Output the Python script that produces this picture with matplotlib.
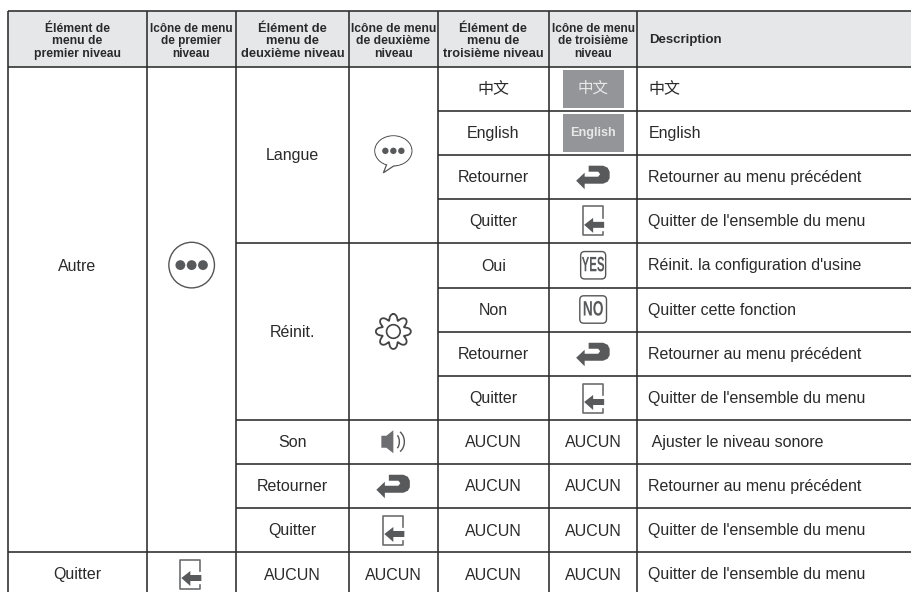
import numpy as np
import matplotlib
matplotlib.use("Agg")
import matplotlib.pyplot as plt
from matplotlib.patches import Polygon, Circle, FancyBboxPatch, Rectangle, Arc, Ellipse
from matplotlib.patheffects import AbstractPathEffect
from matplotlib.transforms import Affine2D

col_edges = [8, 146.7, 236, 349, 437.7, 549, 637.3, 911]
row_edges = [11, 66.7, 110.5, 154.7, 198.7, 243, 287.5, 331.5, 376, 420, 463.5, 508, 552, 596]

headers = ["Élément de\nmenu de\npremier niveau", "Icône de menu\nde premier\nniveau",
           "Élément de\nmenu de\ndeuxième niveau", "Icône de menu\nde deuxième\nniveau",
           "Élément de\nmenu de\ntroisième niveau", "Icône de menu\nde troisième\nniveau"]
header_sizes = [8.7, 8.5, 9.3, 8.7, 9.2, 8.6]
level1 = [("Autre", 1, 10, "dots"), ("Quitter", 12, 13, "door")]
level2 = [("Langue", 1, 5, "bubble"), ("Réinit.", 5, 9, "gear"), ("Son", 9, 10, "speaker"),
          ("Retourner", 10, 11, "ret"), ("Quitter", 11, 12, "door"), ("AUCUN", 12, 13, None)]
level3 = ["中文", "English", "Retourner", "Quitter", "Oui", "Non", "Retourner", "Quitter",
          "AUCUN", "AUCUN", "AUCUN", "AUCUN"]
icons3 = ["zh", "en", "ret", "door", "yes", "no", "ret", "door", None, None, None, None]
descriptions = ["中文", "English", "Retourner au menu précédent", "Quitter de l'ensemble du menu",
                "Réinit. la configuration d'usine", "Quitter cette fonction",
                "Retourner au menu précédent", "Quitter de l'ensemble du menu",
                " Ajuster le niveau sonore", "Retourner au menu précédent",
                "Quitter de l'ensemble du menu", "Quitter de l'ensemble du menu"]

FAM = ['Liberation Sans', 'Noto Sans CJK SC', 'DejaVu Sans']
INK = '#2a2a2a'
GREY = '#58595b'
LINE = '#2b2b2b'
HEAD = '#e6e7e8'
FS = 11.5

fig = plt.figure(figsize=(9.11, 5.92), dpi=100)
ax = fig.add_axes([0, 0, 1, 1])
ax.set_xlim(0, 911)
ax.set_ylim(592, 0)
ax.axis('off')


class SqueezeX(AbstractPathEffect):
    """Narrows a text horizontally around a centre given in display pixels."""

    def __init__(self, factor, centre_px):
        super().__init__()
        self.factor = factor
        self.centre_px = centre_px

    def draw_path(self, renderer, gc, tpath, affine, rgbFace=None):
        squeeze = Affine2D().translate(-self.centre_px, 0).scale(self.factor, 1).translate(self.centre_px, 0)
        renderer.draw_path(gc, tpath, affine + squeeze, rgbFace)


def cell_text(x, y, s, **kw):
    kw.setdefault('fontsize', FS)
    kw.setdefault('color', INK)
    kw.setdefault('ha', 'center')
    kw.setdefault('va', 'center')
    ax.text(x, y, s, family=FAM, **kw)


def icon_ret(cx, cy):
    rel = [(-17, 4), (-8.5, -4), (-8.5, 0), (5, 0), (7, -2.5), (5, -5), (-4.5, -5), (-4.5, -11),
           (10, -11), (14.5, -9), (16.5, -5), (16.5, 1.5), (14.5, 5), (10, 7), (-8.5, 7), (-8.5, 12.5)]
    ax.add_patch(Polygon([(cx + a, cy + b) for a, b in rel], fc=GREY, ec='none', zorder=3))


def icon_door(cx, cy):
    l, r, t, b = cx - 10.5, cx + 9.5, cy - 14.5, cy + 14.5
    ax.plot([r, r, l, l, r, r], [cy - 3, t, t, b, b, cy + 11], color='#6d6e71', lw=1.2, zorder=3)
    rel = [(-9, 4), (0, -3), (0, 1), (11, 1), (11, 7), (0, 7), (0, 12)]
    ax.add_patch(Polygon([(cx + a, cy + b) for a, b in rel], fc=GREY, ec='none', zorder=4))


def icon_dots(cx, cy):
    ax.add_patch(Circle((cx, cy), 22.8, fc='white', ec='#555555', lw=1.0, zorder=3))
    for dx in (-11.3, 0, 11.3):
        ax.add_patch(Circle((cx + dx, cy), 4.9, fc=GREY, ec='none', zorder=4))


def icon_bubble(cx, cy):
    cy = cy - 4
    ax.add_patch(Ellipse((cx, cy), 37, 30, fc='white', ec='#555555', lw=0.9, zorder=3))
    ax.add_patch(Polygon([(cx - 6, cy + 12), (cx - 10, cy + 22), (cx + 2, cy + 14)],
                         fc='white', ec='#555555', lw=0.9, zorder=3))
    ax.add_patch(Ellipse((cx, cy), 36, 29, fc='white', ec='none', zorder=3.5))
    for dx in (-8, 0, 8):
        ax.add_patch(Circle((cx + dx, cy), 3.2, fc=GREY, ec='none', zorder=4))


def icon_gear(cx, cy):
    a = np.linspace(0, 2 * np.pi, 720)
    r = 14.5 + 3 * np.cos(8 * a)
    w = a + 0.06 * np.sin(8 * a) - np.pi / 2
    ax.plot(cx + r * np.cos(w), cy + r * np.sin(w), color='#444444', lw=1.3, zorder=3)
    ax.add_patch(Circle((cx, cy), 6.8, fc='none', ec='#444444', lw=1.2, zorder=3))


def icon_speaker(cx, cy):
    rel = [(-12, -6), (-7, -6), (0, -11.5), (0, 11.5), (-7, 6), (-12, 6)]
    ax.add_patch(Polygon([(cx + a, cy + b) for a, b in rel], fc='#6d6e71', ec='none', zorder=3))
    ax.add_patch(Arc((cx + 1, cy), 10, 16, theta1=-65, theta2=65, color='#555555', lw=1, zorder=3))
    ax.add_patch(Arc((cx + 1, cy), 20, 24, theta1=-60, theta2=60, color='#555555', lw=1, zorder=3))


def icon_badge(cx, cy, s, w, squeeze):
    ax.add_patch(FancyBboxPatch((cx - w / 2, cy - 13.7), w, 27.4, boxstyle='round,pad=0,rounding_size=4',
                                fc='white', ec='#555555', lw=1.0, zorder=3))
    txt = ax.text(cx, cy + 0.5, s, family=FAM, fontsize=15, fontweight='bold', color=GREY,
                  ha='center', va='center', zorder=4)
    txt.set_path_effects([SqueezeX(squeeze, ax.transData.transform((cx, cy))[0])])


def icon_square(cx, cy, s, **kw):
    ax.add_patch(Rectangle((cx - 30.5, cy - 19), 61, 38, fc='#939598', ec='none', zorder=3))
    ax.text(cx, cy, s, family=FAM, color='#e8e8e8', ha='center', va='center', zorder=4, **kw)


def draw_icon(kind, cx, cy):
    if kind == 'ret':
        icon_ret(cx, cy)
    elif kind == 'door':
        icon_door(cx, cy)
    elif kind == 'dots':
        icon_dots(cx, cy)
    elif kind == 'bubble':
        icon_bubble(cx, cy)
    elif kind == 'gear':
        icon_gear(cx, cy)
    elif kind == 'speaker':
        icon_speaker(cx, cy)
    elif kind == 'yes':
        icon_badge(cx, cy, 'YES', 25, 0.55)
    elif kind == 'no':
        icon_badge(cx, cy, 'NO', 26.7, 0.66)
    elif kind == 'zh':
        icon_square(cx, cy, '中文', fontsize=11.2)
    elif kind == 'en':
        icon_square(cx, cy, 'English', fontsize=9.1, fontweight='bold')
    elif kind is not None:
        raise ValueError(kind)


def centre(edges, a, b):
    return (edges[a] + edges[b]) / 2


# header band
ax.add_patch(Rectangle((col_edges[0], row_edges[0]), 911 - col_edges[0], row_edges[1] - row_edges[0],
                       fc=HEAD, ec='none', zorder=1))
for i, h in enumerate(headers):
    cell_text(centre(col_edges, i, i + 1), centre(row_edges, 0, 1) + 2.5, h, fontsize=header_sizes[i],
              fontweight='bold', linespacing=1.05, color='#2a2a2a')
cell_text(649, centre(row_edges, 0, 1) + 1, "Description", fontsize=9.5, fontweight='bold', ha='left',
          color='#2a2a2a')

# level 1 and 2 cells
for name, a, b, icon in level1:
    cy = centre(row_edges, a, b)
    cell_text(centre(col_edges, 0, 1), cy + 1, name)
    draw_icon(icon, centre(col_edges, 1, 2) - (1 if icon == 'door' else -0.3), cy)
for name, a, b, icon in level2:
    cy = centre(row_edges, a, b)
    cell_text(centre(col_edges, 2, 3), cy + 1, name)
    if icon:
        draw_icon(icon, centre(col_edges, 3, 4), cy)
    else:
        cell_text(centre(col_edges, 3, 4), cy + 1, name)

# level 3 and description cells
for i, (name, icon, desc) in enumerate(zip(level3, icons3, descriptions)):
    cy = centre(row_edges, i + 1, i + 2)
    cell_text(centre(col_edges, 4, 5), cy + 1, name)
    if icon:
        draw_icon(icon, centre(col_edges, 5, 6), cy)
    else:
        cell_text(centre(col_edges, 5, 6), cy + 1, name)
    cell_text(648.5, cy + 0.5, desc, ha='left')

# grid
kw = dict(color=LINE, lw=1.15, zorder=2, solid_capstyle='butt')
for x in col_edges[:-1]:
    ax.plot([x, x], [row_edges[0], row_edges[-1]], **kw)
ax.plot([col_edges[0], 911], [row_edges[0]] * 2, **kw)
ax.plot([col_edges[0], 911], [row_edges[1]] * 2, **kw)
ax.plot([col_edges[0], 911], [row_edges[12]] * 2, **kw)
for i in range(2, 12):
    start = col_edges[4]
    if i in (5, 9, 10, 11):
        start = col_edges[2]
    ax.plot([start, 911], [row_edges[i]] * 2, **kw)

fig.savefig('out.png', dpi=100, facecolor='white')
